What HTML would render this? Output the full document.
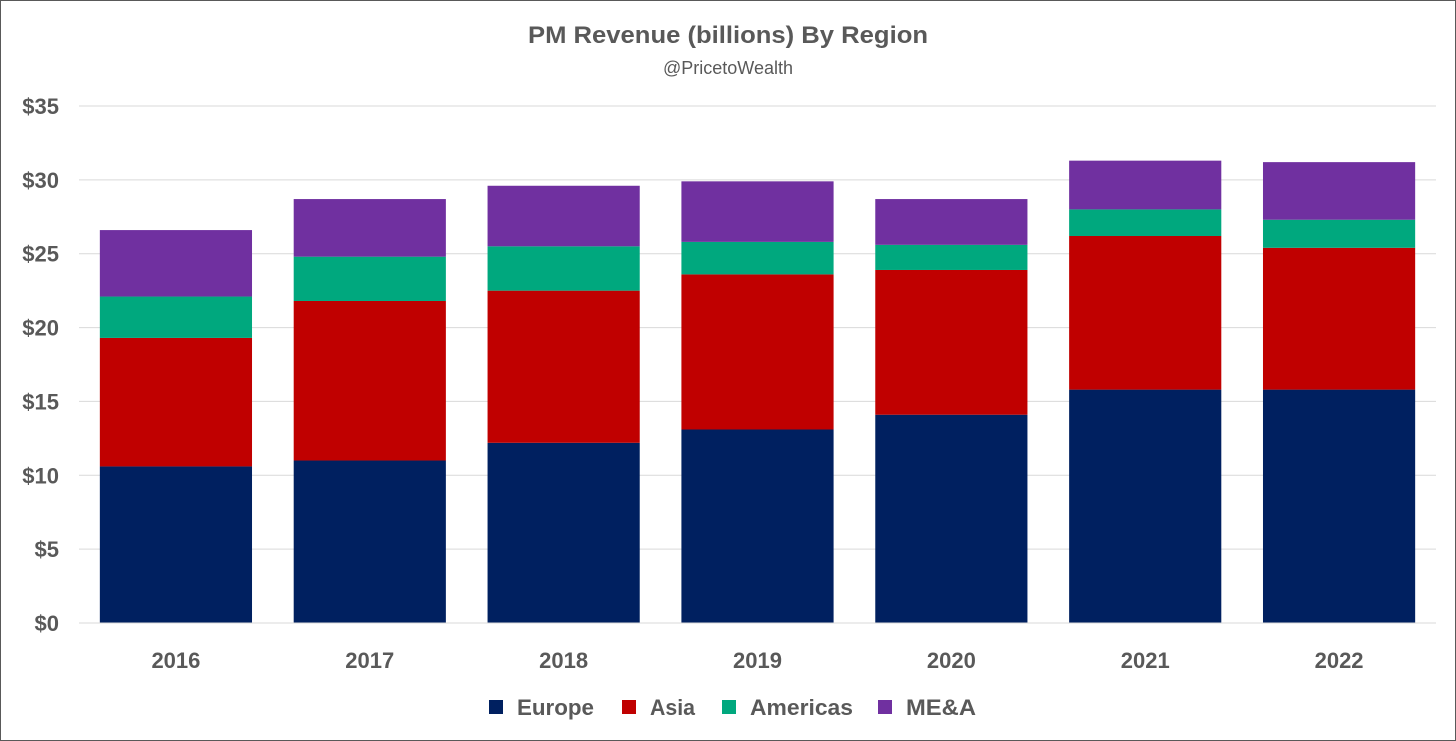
<!DOCTYPE html>
<html><head><meta charset="utf-8"><style>
html,body{margin:0;padding:0;background:#fff;}
#wrap{position:relative;width:1454px;height:739px;border:1px solid #595959;background:#fff;overflow:hidden;}
svg text{font-family:"Liberation Sans",sans-serif;}
</style></head><body>
<div id="wrap">
<svg id="chart" width="1454" height="739">
<text x="727" y="42" text-anchor="middle" font-size="24" font-weight="bold" fill="#595959" textLength="400" lengthAdjust="spacingAndGlyphs">PM Revenue (billions) By Region</text>
<text x="727" y="73" text-anchor="middle" font-size="18" fill="#595959">@PricetoWealth</text>
<g id="grid"></g><g id="bars"></g><g id="axes"></g><g id="legend"></g>
</svg>
</div>
<script>
const categories=["2016","2017","2018","2019","2020","2021","2022"];
const seriesNames=["Europe","Asia","Americas","ME&A"];
const europe=[10.6,11.0,12.2,13.1,14.1,15.8,15.8];
const asia=[8.7,10.8,10.3,10.5,9.8,10.4,9.6];
const americas=[2.8,3.0,3.0,2.2,1.7,1.8,1.9];
const mea=[4.5,3.9,4.1,4.1,3.1,3.3,3.9];
const yTicks=[0,5,10,15,20,25,30,35];
const yTickLabels=["$0","$5","$10","$15","$20","$25","$30","$35"];
const colors=["#002060","#C00000","#00A87E","#7030A0"];
const series=[europe,asia,americas,mea];
const NS="http://www.w3.org/2000/svg";
const plotL=78,plotR=1435,y0=622,yTop=105,yMax=35;
const y=v=>y0-(v/yMax)*(y0-yTop);
const band=(plotR-plotL)/categories.length;
const bw=band*0.785;
const x=i=>plotL+band*i+band/2;
function mk(t,a,p){const e=document.createElementNS(NS,t);for(const k in a)e.setAttribute(k,a[k]);p.appendChild(e);return e;}
const g=document.getElementById('grid'),b=document.getElementById('bars'),ax=document.getElementById('axes'),lg=document.getElementById('legend');
yTicks.forEach((t,i)=>{
 if(t>0){const l=mk('line',{x1:plotL,x2:plotR,y1:y(t),y2:y(t),stroke:'#d9d9d9','stroke-width':1},g);
 
 }
 const tx=mk('text',{x:58,y:y(t)+8,'text-anchor':'end','font-size':22,'font-weight':'bold',fill:'#595959'},ax);
 tx.textContent=yTickLabels[i];
 
 
});
const base=mk('line',{x1:plotL,x2:plotR,y1:y0,y2:y0,stroke:'#d9d9d9','stroke-width':1},ax);


categories.forEach((c,i)=>{
 let acc=0;
 series.forEach((s,j)=>{
  const r=mk('rect',{x:x(i)-bw/2,y:y(acc+s[i]),width:bw,height:y(acc)-y(acc+s[i]),fill:colors[j]},b);
  
  
  acc+=s[i];
 });
 const t=mk('text',{x:x(i),y:667,'text-anchor':'middle','font-size':22,'font-weight':'bold',fill:'#595959'},ax);
 t.textContent=c;
 
 
});
const lx=[488,621,721,877];
const lw=[77,45,103,70];
seriesNames.forEach((n,j)=>{
 const r=mk('rect',{x:lx[j],y:699,width:14,height:14,fill:colors[j]},lg);
 
 
 const t=mk('text',{x:lx[j]+28,y:714,'font-size':22,'font-weight':'bold',fill:'#595959',textLength:lw[j],lengthAdjust:'spacingAndGlyphs'},lg);
 t.textContent=n;
 
 
});
</script>
</body></html>
